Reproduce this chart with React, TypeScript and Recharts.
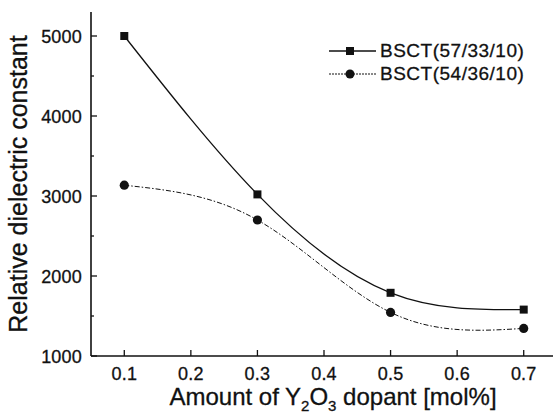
import React from "react";
import { LineChart, Line, XAxis, YAxis } from "recharts";

const dopantAmount = [0.1, 0.3, 0.5, 0.7];
const bsct573310 = [5000, 3020, 1790, 1580];
const bsct543610 = [3135, 2700, 1545, 1345];
const seriesNames = ["BSCT(57/33/10)", "BSCT(54/36/10)"];
const xTicks = [0.1, 0.2, 0.3, 0.4, 0.5, 0.6, 0.7];
const yTicks = [1000, 1500, 2000, 2500, 3000, 3500, 4000, 4500, 5000];

const data = dopantAmount.map((x, i) => ({
  x,
  a: bsct573310[i],
  b: bsct543610[i],
}));

const FONT = '"Liberation Sans", Arial, Helvetica, sans-serif';
const INK = "#111";
const DASH = "5 2 1.5 2";

function YTick(props: any) {
  const { x, y, payload } = props;
  const major = payload.value % 1000 === 0;
  return (
    <g>
      <line x1={x} x2={x + (major ? 6 : 3)} y1={y} y2={y} stroke={INK} strokeWidth={1.3} />
      {major && (
        <text
          x={x - 9}
          y={y + 6.5}
          textAnchor="end"
          fontSize={18}
          fontFamily={FONT}
          fill={INK}
          stroke={INK}
          strokeWidth={0.3}
          letterSpacing={0.2}
        >
          {payload.value}
        </text>
      )}
    </g>
  );
}

function XTick(props: any) {
  const { x, y, payload } = props;
  return (
    <g>
      <line x1={x} x2={x} y1={y} y2={y - 6} stroke={INK} strokeWidth={1.3} />
      <text
        x={x}
        y={y + 24}
        textAnchor="middle"
        fontSize={18}
        fontFamily={FONT}
        fill={INK}
        stroke={INK}
        strokeWidth={0.3}
        letterSpacing={0.2}
      >
        {payload.value.toFixed(1)}
      </text>
    </g>
  );
}

function Square(props: any) {
  const { cx, cy, index } = props;
  return <rect key={`sq-${index}`} x={cx - 4} y={cy - 4} width={8} height={8} fill={INK} />;
}

function Dot(props: any) {
  const { cx, cy, index } = props;
  return <circle key={`ci-${index}`} cx={cx} cy={cy} r={4.6} fill={INK} />;
}

function LegendBox() {
  const rows = [
    { name: seriesNames[0], dash: undefined, square: true, w: 1.3 },
    { name: seriesNames[1], dash: "2 1", square: false, w: 1 },
  ];
  return (
    <div
      style={{
        position: "absolute",
        left: 329,
        top: 39,
        fontFamily: FONT,
        fontSize: 19,
        color: INK,
        lineHeight: "23px",
        WebkitTextStroke: "0.3px #111",
      }}
    >
      {rows.map((r) => (
        <div key={r.name} style={{ display: "flex", alignItems: "center", height: 23 }}>
          <svg width={48} height={12} style={{ marginRight: 3 }}>
            <line x1={0} x2={47} y1={6} y2={6} stroke={INK} strokeWidth={r.w} strokeDasharray={r.dash} />
            {r.square ? (
              <rect x={17} y={2} width={8} height={8} fill={INK} />
            ) : (
              <circle cx={21} cy={6} r={4.5} fill={INK} />
            )}
          </svg>
          <span style={{ letterSpacing: 0.5 }}>{r.name}</span>
        </div>
      ))}
    </div>
  );
}

export default function App() {
  return (
    <div
      style={{
        position: "absolute",
        left: 0,
        top: 0,
        width: 553,
        height: 414,
        overflow: "hidden",
        background: "#fff",
      }}
    >
      <LineChart
        width={560}
        height={414}
        data={data}
        margin={{ top: 12, right: 3, bottom: 0, left: 0 }}
      >
        <XAxis
          dataKey="x"
          type="number"
          domain={[0.05, 0.75]}
          ticks={xTicks}
          tick={<XTick />}
          tickLine={false}
          tickSize={0}
          tickMargin={0}
          height={58}
          axisLine={{ stroke: INK, strokeWidth: 1.6 }}
          allowDataOverflow
        />
        <XAxis
          xAxisId="top"
          dataKey="x"
          type="number"
          orientation="top"
          domain={[0.05, 0.75]}
          height={0}
          tick={false}
          tickLine={false}
          axisLine={{ stroke: INK, strokeWidth: 1.6 }}
          allowDataOverflow
        />
        <YAxis
          type="number"
          domain={[1000, 5300]}
          ticks={yTicks}
          tick={<YTick />}
          tickLine={false}
          tickSize={0}
          tickMargin={0}
          width={91}
          axisLine={{ stroke: INK, strokeWidth: 1.6 }}
          allowDataOverflow
          label={{
            content: () => (
              <text
                x={27}
                y={184}
                transform="rotate(-90 27 184)"
                textAnchor="middle"
                fontSize={25}
                fontFamily={FONT}
                fill={INK}
                stroke={INK}
                strokeWidth={0.3}
              >
                Relative dielectric constant
              </text>
            ),
          }}
        />
        <Line
          name={seriesNames[0]}
          dataKey="a"
          type="natural"
          stroke={INK}
          strokeWidth={1.3}
          dot={<Square />}
          activeDot={false}
          isAnimationActive={false}
        />
        <Line
          name={seriesNames[1]}
          dataKey="b"
          type="natural"
          stroke={INK}
          strokeWidth={1}
          strokeDasharray={DASH}
          dot={<Dot />}
          activeDot={false}
          isAnimationActive={false}
        />
        <text
          x={333}
          y={405}
          textAnchor="middle"
          fontSize={24}
          fontFamily={FONT}
          fill={INK}
          stroke={INK}
          strokeWidth={0.3}
        >
          Amount of Y
          <tspan fontSize={15} dy={6}>2</tspan>
          <tspan dy={-6}>O</tspan>
          <tspan fontSize={15} dy={6}>3</tspan>
          <tspan dy={-6}> dopant [mol%]</tspan>
        </text>
      </LineChart>
      <LegendBox />
    </div>
  );
}
